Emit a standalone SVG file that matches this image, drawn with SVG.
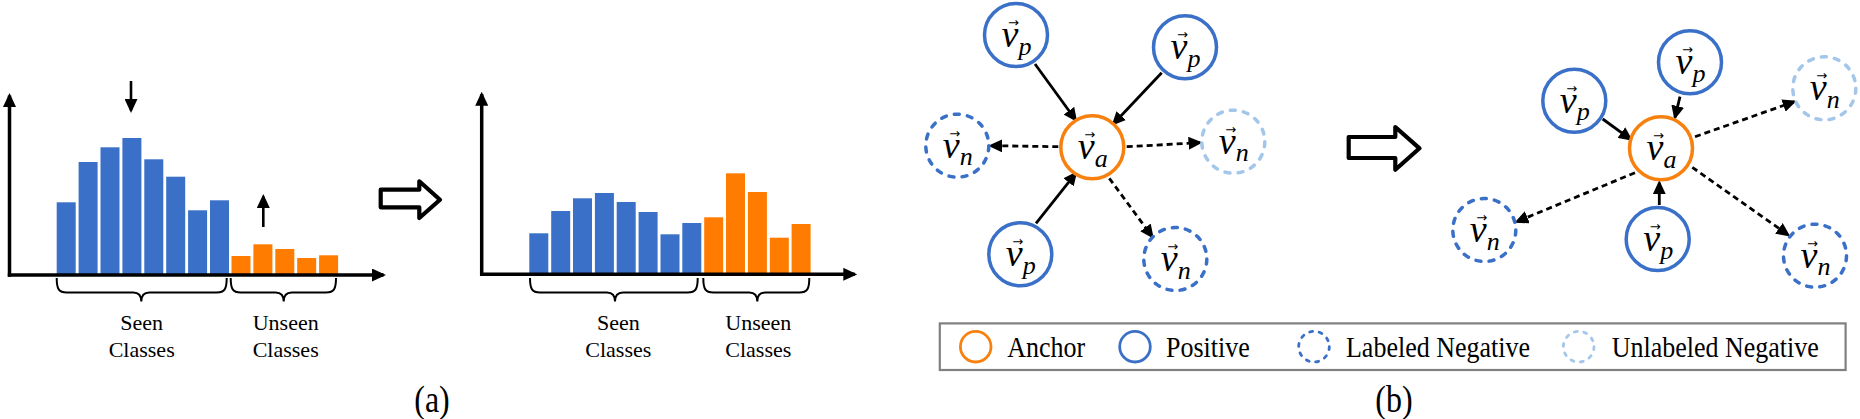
<svg xmlns="http://www.w3.org/2000/svg" width="1860" height="419" viewBox="0 0 1860 419">
<defs>
<style>
.blue{fill:#3a70c8}
.orange{fill:#ff7c00}
.axis{stroke:#000;stroke-width:3.5;fill:none}
.small{stroke:#000;stroke-width:2.6;fill:none}
.brace{stroke:#000;stroke-width:2;fill:none}
.lbl{font-family:"Liberation Serif","Times New Roman",serif;font-size:22px;text-anchor:middle;fill:#000}
.cap{font-family:"Liberation Serif","Times New Roman",serif;font-size:32px;text-anchor:middle;fill:#000}
.big{fill:#fff;stroke:#000;stroke-width:4.2;stroke-linejoin:round}
.pos{fill:#fff;stroke:#3a70c8;stroke-width:3.5}
.anc{fill:#fff;stroke:#f7800f;stroke-width:3.5}
.neg{fill:#fff;stroke:#3a70c8;stroke-width:3.5;stroke-dasharray:5 8.2;stroke-linecap:round}
.unl{fill:#fff;stroke:#a3c6ea;stroke-width:3.5;stroke-dasharray:5 8.2;stroke-linecap:round}
.nt{font-family:"Liberation Serif","Times New Roman",serif;font-style:italic;fill:#000}
.v{font-size:38px}
.sub{font-size:26px}
.vec{font-family:"DejaVu Sans",sans-serif;font-style:normal;font-size:13px}
.edge{stroke:#000;stroke-width:2.8;fill:none;marker-end:url(#ah)}
.dash{stroke-dasharray:6 4}
.lg-box{fill:#fff;stroke:#808080;stroke-width:2.2}
.lg-c{fill:none;stroke-width:2.8}
.lg-t{font-family:"Liberation Serif","Times New Roman",serif;font-size:26px;fill:#000}
</style>
<marker id="ah" markerUnits="userSpaceOnUse" markerWidth="14" markerHeight="13" refX="11.5" refY="6.5" orient="auto" viewBox="0 0 14 13">
<path d="M0,0 L14,6.5 L0,13 Z" fill="#000"/>
</marker>
</defs>
<rect width="1860" height="419" fill="#fff"/>

<!-- (a) left histogram -->
<g id="hist-before">
<rect class="blue" x="56.7" y="202.3" width="19" height="72.7"/>
<rect class="blue" x="78.6" y="162" width="19" height="113"/>
<rect class="blue" x="100.5" y="147.3" width="19" height="127.7"/>
<rect class="blue" x="122.4" y="138" width="19" height="137"/>
<rect class="blue" x="144.3" y="159.3" width="19" height="115.7"/>
<rect class="blue" x="166.2" y="176.7" width="19" height="98.3"/>
<rect class="blue" x="188.1" y="210.3" width="19" height="64.7"/>
<rect class="blue" x="210" y="200.3" width="19" height="74.7"/>
<rect class="orange" x="231.5" y="256" width="19" height="19"/>
<rect class="orange" x="253.4" y="244.3" width="19" height="30.7"/>
<rect class="orange" x="275.3" y="249" width="19" height="26"/>
<rect class="orange" x="297.2" y="258" width="19" height="17"/>
<rect class="orange" x="319.1" y="255.3" width="19" height="19.7"/>
<line class="axis" x1="9.5" y1="276.7" x2="9.5" y2="95.5" marker-end="url(#ah)"/>
<line class="axis" x1="7.8" y1="275" x2="383.5" y2="275" marker-end="url(#ah)"/>
<line class="small" x1="131" y1="81" x2="131" y2="110.5" marker-end="url(#ah)"/>
<line class="small" x1="263.3" y1="227" x2="263.3" y2="196.5" marker-end="url(#ah)"/>
<path class="brace" d="M56.7,278 C56.7,289 58.7,292.5 66.7,292.5 L133.3,292.5 C138.3,292.5 141.3,295 141.3,301.5 C141.3,295 144.3,292.5 149.3,292.5 L216.7,292.5 C224.7,292.5 226.7,289 226.7,278"/>
<path class="brace" d="M230.7,278 C230.7,289 232.7,292.5 240.7,292.5 L275.7,292.5 C280.7,292.5 283.7,295 283.7,301.5 C283.7,295 286.7,292.5 291.7,292.5 L326,292.5 C334,292.5 336,289 336,278"/>
<text class="lbl" x="141.7" y="330">Seen</text>
<text class="lbl" x="141.7" y="357">Classes</text>
<text class="lbl" x="285.7" y="330">Unseen</text>
<text class="lbl" x="285.7" y="357">Classes</text>
</g>

<g id="transfer-a">
<path class="big" d="M380.7,189.7 L419.3,189.7 L419.3,181.3 L440,199.7 L419.3,218 L419.3,207.3 L380.7,207.3 Z"/>
</g>

<!-- (a) right histogram -->
<g id="hist-after">
<rect class="blue" x="529.3" y="233.3" width="19" height="41"/>
<rect class="blue" x="551.2" y="211" width="19" height="63.3"/>
<rect class="blue" x="573" y="198.3" width="19" height="76"/>
<rect class="blue" x="594.9" y="193" width="19" height="81.3"/>
<rect class="blue" x="616.7" y="202" width="19" height="72.3"/>
<rect class="blue" x="638.6" y="212" width="19" height="62.3"/>
<rect class="blue" x="660.5" y="234.3" width="19" height="40"/>
<rect class="blue" x="682.3" y="223" width="19" height="51.3"/>
<rect class="orange" x="704.2" y="217.3" width="19" height="57"/>
<rect class="orange" x="726" y="173.3" width="19" height="101"/>
<rect class="orange" x="747.9" y="192" width="19" height="82.3"/>
<rect class="orange" x="769.8" y="237.7" width="19" height="36.6"/>
<rect class="orange" x="791.6" y="224" width="19" height="50.3"/>
<line class="axis" x1="481.7" y1="276" x2="481.7" y2="94.2" marker-end="url(#ah)"/>
<line class="axis" x1="480" y1="274.3" x2="854.8" y2="274.3" marker-end="url(#ah)"/>
<path class="brace" d="M530,278 C530,289 532,292.5 540,292.5 L607,292.5 C612,292.5 615,295 615,301.5 C615,295 618,292.5 623,292.5 L687.7,292.5 C695.7,292.5 697.7,289 697.7,278"/>
<path class="brace" d="M703.3,278 C703.3,289 705.3,292.5 713.3,292.5 L749.3,292.5 C754.3,292.5 757.3,295 757.3,301.5 C757.3,295 760.3,292.5 765.3,292.5 L799.3,292.5 C807.3,292.5 809.3,289 809.3,278"/>
<text class="lbl" x="618.3" y="330">Seen</text>
<text class="lbl" x="618.3" y="357">Classes</text>
<text class="lbl" x="758.3" y="330">Unseen</text>
<text class="lbl" x="758.3" y="357">Classes</text>
</g>

<g id="caption-a"><text class="cap" transform="translate(432,412) scale(1,1.2)">(a)</text></g>

<!-- (b) connectors -->
<g id="connectors">
<line class="edge" x1="1035" y1="64" x2="1075.7" y2="120"/>
<line class="edge" x1="1161.7" y1="72.7" x2="1113.3" y2="124"/>
<line class="edge" x1="1036" y1="223.3" x2="1075.7" y2="173.3"/>
<line class="edge dash" x1="1058.3" y1="146.7" x2="990.7" y2="145.7"/>
<line class="edge dash" x1="1126.7" y1="146.7" x2="1200" y2="142.7"/>
<line class="edge dash" x1="1109.3" y1="178.3" x2="1152.3" y2="236.7"/>
<line class="edge" x1="1602.7" y1="119" x2="1630.7" y2="139.3"/>
<line class="edge" x1="1680" y1="96.7" x2="1675" y2="117.3"/>
<line class="edge" x1="1659.3" y1="205" x2="1659.3" y2="182.7"/>
<line class="edge dash" x1="1695" y1="136.7" x2="1794.3" y2="101.7"/>
<line class="edge dash" x1="1635" y1="172.7" x2="1516.7" y2="221.7"/>
<line class="edge dash" x1="1692.3" y1="167.3" x2="1788.3" y2="235"/>
</g>

<!-- (b) left graph nodes -->
<g id="A1" transform="translate(1092.3,147.3)"><circle class="anc" r="31.5"/><text class="nt"><tspan class="v" x="-14.5" y="12">v</tspan><tspan class="vec" x="-8" y="-8">→</tspan><tspan class="sub" x="2.5" y="19.5">a</tspan></text></g>
<g id="P1" transform="translate(1016,35)"><circle class="pos" r="31.5"/><text class="nt"><tspan class="v" x="-14.5" y="12">v</tspan><tspan class="vec" x="-8" y="-8">→</tspan><tspan class="sub" x="2.5" y="19.5">p</tspan></text></g>
<g id="P2" transform="translate(1185,47.3)"><circle class="pos" r="31.5"/><text class="nt"><tspan class="v" x="-14.5" y="12">v</tspan><tspan class="vec" x="-8" y="-8">→</tspan><tspan class="sub" x="2.5" y="19.5">p</tspan></text></g>
<g id="P3" transform="translate(1020.3,254.3)"><circle class="pos" r="31.5"/><text class="nt"><tspan class="v" x="-14.5" y="12">v</tspan><tspan class="vec" x="-8" y="-8">→</tspan><tspan class="sub" x="2.5" y="19.5">p</tspan></text></g>
<g id="N1" transform="translate(957.3,145.7)"><circle class="neg" r="31.5"/><text class="nt"><tspan class="v" x="-14.5" y="12">v</tspan><tspan class="vec" x="-8" y="-8">→</tspan><tspan class="sub" x="2.5" y="19.5">n</tspan></text></g>
<g id="N2" transform="translate(1233.3,141.7)"><circle class="unl" r="31.5"/><text class="nt"><tspan class="v" x="-14.5" y="12">v</tspan><tspan class="vec" x="-8" y="-8">→</tspan><tspan class="sub" x="2.5" y="19.5">n</tspan></text></g>
<g id="N3" transform="translate(1175.3,259)"><circle class="neg" r="31.5"/><text class="nt"><tspan class="v" x="-14.5" y="12">v</tspan><tspan class="vec" x="-8" y="-8">→</tspan><tspan class="sub" x="2.5" y="19.5">n</tspan></text></g>

<g id="transfer-b">
<path class="big" d="M1348.7,137 L1395.3,137 L1395.3,127 L1419.5,148.3 L1395.3,169.7 L1395.3,158 L1348.7,158 Z"/>
</g>

<!-- (b) right graph nodes -->
<g id="A2" transform="translate(1661,148.3)"><circle class="anc" r="31.5"/><text class="nt"><tspan class="v" x="-14.5" y="12">v</tspan><tspan class="vec" x="-8" y="-8">→</tspan><tspan class="sub" x="2.5" y="19.5">a</tspan></text></g>
<g id="P4" transform="translate(1574.3,100.7)"><circle class="pos" r="31.5"/><text class="nt"><tspan class="v" x="-14.5" y="12">v</tspan><tspan class="vec" x="-8" y="-8">→</tspan><tspan class="sub" x="2.5" y="19.5">p</tspan></text></g>
<g id="P5" transform="translate(1690,62.3)"><circle class="pos" r="31.5"/><text class="nt"><tspan class="v" x="-14.5" y="12">v</tspan><tspan class="vec" x="-8" y="-8">→</tspan><tspan class="sub" x="2.5" y="19.5">p</tspan></text></g>
<g id="P6" transform="translate(1657.7,239)"><circle class="pos" r="31.5"/><text class="nt"><tspan class="v" x="-14.5" y="12">v</tspan><tspan class="vec" x="-8" y="-8">→</tspan><tspan class="sub" x="2.5" y="19.5">p</tspan></text></g>
<g id="N4" transform="translate(1824.3,88.3)"><circle class="unl" r="31.5"/><text class="nt"><tspan class="v" x="-14.5" y="12">v</tspan><tspan class="vec" x="-8" y="-8">→</tspan><tspan class="sub" x="2.5" y="19.5">n</tspan></text></g>
<g id="N5" transform="translate(1484.3,230)"><circle class="neg" r="31.5"/><text class="nt"><tspan class="v" x="-14.5" y="12">v</tspan><tspan class="vec" x="-8" y="-8">→</tspan><tspan class="sub" x="2.5" y="19.5">n</tspan></text></g>
<g id="N6" transform="translate(1815,255.7)"><circle class="neg" r="31.5"/><text class="nt"><tspan class="v" x="-14.5" y="12">v</tspan><tspan class="vec" x="-8" y="-8">→</tspan><tspan class="sub" x="2.5" y="19.5">n</tspan></text></g>

<!-- legend -->
<g id="legend">
<rect class="lg-box" x="939.8" y="323.4" width="905.8" height="46.6"/>
<circle class="lg-c" cx="975.7" cy="346.7" r="15.3" stroke="#f7800f"/>
<text class="lg-t" transform="translate(1007.3,357.3) scale(1,1.15)">Anchor</text>
<circle class="lg-c" cx="1135" cy="346.7" r="15.3" stroke="#3a70c8"/>
<text class="lg-t" transform="translate(1166,357.3) scale(1,1.15)">Positive</text>
<circle class="lg-c" cx="1314" cy="346.7" r="15.3" stroke="#3a70c8" stroke-dasharray="3 6.6" stroke-linecap="round"/>
<text class="lg-t" transform="translate(1346,357.3) scale(1,1.15)">Labeled Negative</text>
<circle class="lg-c" cx="1578.7" cy="346.7" r="15.3" stroke="#a3c6ea" stroke-dasharray="3 6.6" stroke-linecap="round"/>
<text class="lg-t" transform="translate(1611.7,357.3) scale(1,1.15)">Unlabeled Negative</text>
</g>

<g id="caption-b"><text class="cap" transform="translate(1394,412) scale(1,1.2)">(b)</text></g>
</svg>
